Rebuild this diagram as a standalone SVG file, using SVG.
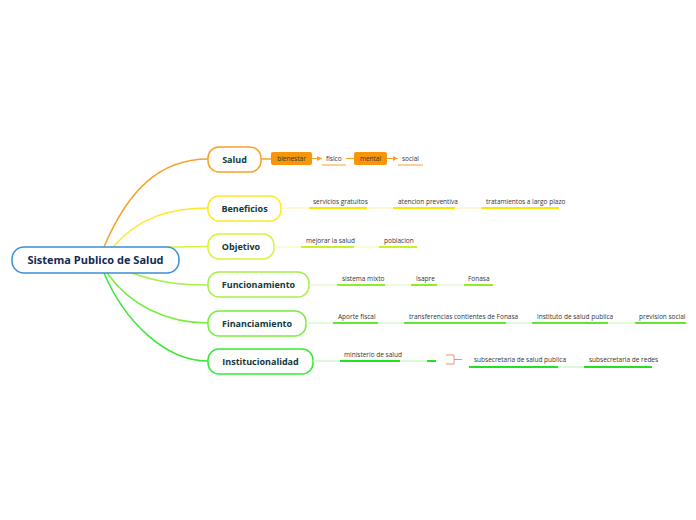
<svg xmlns="http://www.w3.org/2000/svg" width="696" height="520" viewBox="0 0 696 520">
<style>
.node{fill:#fff;stroke-width:1.5}
.nt{font-family:"Open Sans","DejaVu Sans",sans-serif;font-weight:bold;font-size:9px;fill:#12383a;text-anchor:middle}
.rt{font-family:"Open Sans","DejaVu Sans",sans-serif;font-weight:bold;font-size:11px;fill:#112a52;text-anchor:middle}
.ct{font-family:"Open Sans","DejaVu Sans",sans-serif;font-size:6.5px;fill:#333}
.c{fill:none;stroke-width:1.5}
.u{fill:none;stroke-width:2}
.l{fill:none;stroke-width:1}
</style>
<defs>
<marker id="ar" markerWidth="6" markerHeight="6" refX="5" refY="3" orient="auto" markerUnits="userSpaceOnUse">
<path d="M0,0.5 L5,3 L0,5.5 Z" fill="#f7a12a"/>
</marker>
</defs>
<g id="connectors">
<path class="c" stroke="#f7a12a" d="M104,247 C128,190 160,159 208,159"/>
<path class="c" stroke="#ffe82a" d="M113,247 C140,216 172,208 208,208"/>
<path class="c" stroke="#d3f53f" d="M168,247 C186,247 192,246.5 208,246.5"/>
<path class="c" stroke="#a6f04a" d="M132,273 C160,283 182,285 208,285"/>
<path class="c" stroke="#78ee3c" d="M107,273 C130,305 166,323 208,323"/>
<path class="c" stroke="#35ea36" d="M104,273 C124,320 164,361 208,361"/>
</g>
<g id="root">
<rect class="node" x="12" y="247" width="167" height="26" rx="12" stroke="#3d8fd4"/>
<text class="rt" x="95.5" y="264">Sistema Publico de Salud</text>
</g>
<g id="salud">
<rect class="node" x="208" y="147" width="53" height="25" rx="11" stroke="#f7a12a"/>
<text class="nt" x="234.5" y="162.5">Salud</text>
<line class="c" stroke="#f7a12a" x1="261" y1="159" x2="271" y2="159"/>
<rect x="271" y="152" width="41" height="13" rx="2" fill="#f7960a"/>
<text class="ct" x="291.5" y="161" text-anchor="middle" fill="#5a3600">bienestar</text>
<line class="l" stroke="#f7a12a" x1="312" y1="158.5" x2="322" y2="158.5" marker-end="url(#ar)"/>
<text class="ct" x="326" y="161">fisico</text>
<line class="l" stroke="#f7a12a" x1="322" y1="165" x2="346" y2="165"/>
<line class="l" stroke="#f7a12a" x1="346" y1="158.5" x2="354" y2="158.5"/>
<rect x="354" y="152" width="33" height="13" rx="2" fill="#f7960a"/>
<text class="ct" x="370.5" y="161" text-anchor="middle" fill="#5a3600">mental</text>
<line class="l" stroke="#f7a12a" x1="387" y1="158.5" x2="398" y2="158.5" marker-end="url(#ar)"/>
<text class="ct" x="402" y="161">social</text>
<line class="l" stroke="#f7a12a" x1="398" y1="165" x2="423" y2="165"/>
</g>
<g id="beneficios">
<rect class="node" x="208" y="196" width="73" height="25" rx="11" stroke="#ffe82a"/>
<text class="nt" x="244.5" y="211.5">Beneficios</text>
<line class="l" stroke="#fff3a0" x1="281" y1="208" x2="481" y2="208"/>
<line class="u" stroke="#ffe600" x1="309" y1="208" x2="367" y2="208"/>
<text class="ct" x="313" y="204">servicios gratuitos</text>
<line class="u" stroke="#ffe600" x1="393" y1="208" x2="455" y2="208"/>
<text class="ct" x="398" y="204">atencion preventiva</text>
<line class="u" stroke="#ffe600" x1="481" y1="208" x2="559" y2="208"/>
<text class="ct" x="486" y="204">tratamientos a largo plazo</text>
</g>
<g id="objetivo">
<rect class="node" x="208" y="234" width="66" height="25" rx="11" stroke="#d3f53f"/>
<text class="nt" x="241" y="249.5">Objetivo</text>
<line class="l" stroke="#eafbb0" x1="274" y1="247" x2="379" y2="247"/>
<line class="u" stroke="#c6f22a" x1="301" y1="247" x2="354" y2="247"/>
<text class="ct" x="306" y="243">mejorar la salud</text>
<line class="u" stroke="#c6f22a" x1="379" y1="247" x2="417" y2="247"/>
<text class="ct" x="384" y="243">poblacion</text>
</g>
<g id="funcionamiento">
<rect class="node" x="208" y="272" width="101" height="25" rx="11" stroke="#a6f04a"/>
<text class="nt" x="258.5" y="287.5">Funcionamiento</text>
<line class="l" stroke="#d8f8b8" x1="309" y1="285" x2="464" y2="285"/>
<line class="u" stroke="#8eee22" x1="337" y1="285" x2="385" y2="285"/>
<text class="ct" x="342" y="281">sistema mixto</text>
<line class="u" stroke="#8eee22" x1="411" y1="285" x2="437" y2="285"/>
<text class="ct" x="416" y="281">Isapre</text>
<line class="u" stroke="#8eee22" x1="464" y1="285" x2="493" y2="285"/>
<text class="ct" x="468" y="281">Fonasa</text>
</g>
<g id="financiamiento">
<rect class="node" x="208" y="311" width="98" height="25" rx="11" stroke="#78ee3c"/>
<text class="nt" x="257" y="326.5">Financiamiento</text>
<line class="l" stroke="#c4f7b4" x1="306" y1="323" x2="635" y2="323"/>
<line class="u" stroke="#5ee830" x1="333" y1="323" x2="378" y2="323"/>
<text class="ct" x="338" y="319">Aporte fiscal</text>
<line class="u" stroke="#5ee830" x1="404" y1="323" x2="506" y2="323"/>
<text class="ct" x="409" y="319">transferencias contientes de Fonasa</text>
<line class="u" stroke="#5ee830" x1="532" y1="323" x2="608" y2="323"/>
<text class="ct" x="537" y="319">instituto de salud publica</text>
<line class="u" stroke="#5ee830" x1="635" y1="323" x2="686" y2="323"/>
<text class="ct" x="639" y="319">prevision social</text>
</g>
<g id="institucionalidad">
<rect class="node" x="208" y="349" width="105" height="25" rx="11" stroke="#35ea36"/>
<text class="nt" x="260.5" y="364.5">Institucionalidad</text>
<line class="l" stroke="#b4f5b4" x1="313" y1="361" x2="427" y2="361"/>
<line class="u" stroke="#22e022" x1="340" y1="361" x2="400" y2="361"/>
<text class="ct" x="344" y="357">ministerio de salud</text>
<line class="u" stroke="#22e022" x1="427" y1="361" x2="436" y2="361"/>
<path class="l" stroke="#ee9070" stroke-width="1.3" d="M446,355 H454 V364 H446 M454,359.5 H462"/>
<line class="l" stroke="#b4f5b4" x1="558" y1="367" x2="584" y2="367"/>
<line class="u" stroke="#22e022" x1="469" y1="367" x2="558" y2="367"/>
<text class="ct" x="474" y="362">subsecretaria de salud publica</text>
<line class="u" stroke="#22e022" x1="584" y1="367" x2="652" y2="367"/>
<text class="ct" x="589" y="362">subsecretaria de redes</text>
</g>
</svg>
